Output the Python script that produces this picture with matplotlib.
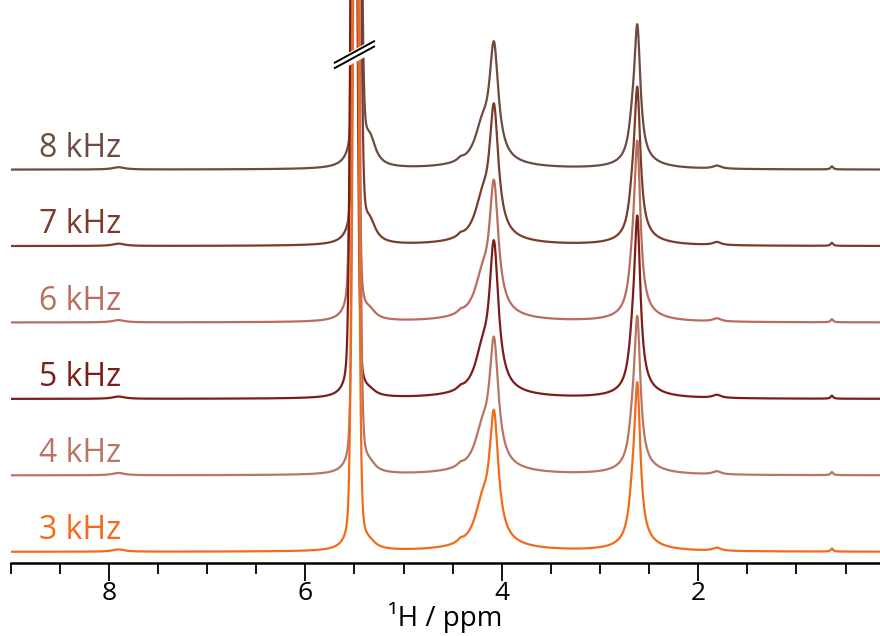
import numpy as np
import matplotlib.pyplot as plt
from matplotlib.ticker import MultipleLocator

plt.rcParams['font.family'] = ['Open Sans', 'DejaVu Sans']

# spectra, bottom to top
labels = ['3 kHz', '4 kHz', '5 kHz', '6 kHz', '7 kHz', '8 kHz']
colors = ['#f26b1d', '#b87563', '#7e1c18', '#b96e5d', '#7c3c2c', '#6c4b41']

# peak list: centre (ppm), fwhm (ppm), lorentzian fraction
peak_pos = [5.49, 5.34, 4.08, 4.20, 4.42, 4.10, 2.62, 2.67, 2.60, 7.90, 1.81, 0.64]
peak_fwhm = [0.06, 0.14, 0.11, 0.18, 0.07, 0.80, 0.075, 0.09, 0.45, 0.15, 0.10, 0.03]
peak_eta = [0.22, 1.0, 1.0, 1.0, 1.0, 1.0, 1.0, 1.0, 1.0, 1.0, 1.0, 1.0]

# shift of the big 5.5 ppm line for each rate
big_shift = [0.000, -0.010, 0.015, 0.008, -0.018, -0.022]

# peak heights (in units of the stacking offset), one row per spectrum
heights = [
    [14, 0.06, 1.62, 0.45, 0.035, 0.07, 1.95, 0.38, 0.09, 0.03, 0.04, 0.04],
    [14, 0.08, 1.59, 0.42, 0.035, 0.07, 1.83, 0.35, 0.09, 0.03, 0.04, 0.04],
    [14, 0.05, 1.85, 0.42, 0.035, 0.07, 2.13, 0.38, 0.09, 0.03, 0.04, 0.04],
    [14, 0.09, 1.64, 0.42, 0.035, 0.07, 2.11, 0.38, 0.09, 0.03, 0.04, 0.04],
    [14, 0.23, 1.64, 0.42, 0.035, 0.07, 1.83, 0.35, 0.09, 0.03, 0.04, 0.04],
    [14, 0.31, 1.46, 0.40, 0.035, 0.07, 1.66, 0.32, 0.09, 0.03, 0.04, 0.04],
]

offset = 1.0
ppm = np.linspace(9.1, 0.0, 6000)


def line(x, c, w, h, eta):
    lor = 1.0 / (1.0 + (2 * (x - c) / w) ** 2)
    gau = np.exp(-4 * np.log(2) * ((x - c) / w) ** 2)
    return h * (eta * lor + (1 - eta) * gau)


fig = plt.figure(figsize=(8.8, 6.36), dpi=100)
ax = fig.add_axes([0.012, 0.115, 0.988, 0.885])

for i in reversed(range(len(labels))):
    y = np.zeros_like(ppm)
    for k in range(len(peak_pos)):
        c = peak_pos[k] + (big_shift[i] if k == 0 else 0)
        y += line(ppm, c, peak_fwhm[k], heights[i][k], peak_eta[k])
    ax.plot(ppm, y + i * offset, color=colors[i], lw=1.6)
    ax.text(8.71, i * offset + 0.17, labels[i], color=colors[i],
            fontsize=23, ha='left', va='baseline')

# break mark on the clipped line
for dy in (0.0, -0.07):
    ax.plot([5.70, 5.30], [6.38 + dy, 6.66 + dy], color='white', lw=5,
            solid_capstyle='butt', zorder=5)
for dy in (0.0, -0.07):
    ax.plot([5.70, 5.30], [6.40 + dy, 6.68 + dy], color='black', lw=1.4,
            zorder=6)

ax.set_xlim(9.0, 0.15)
ax.set_ylim(-0.144, 7.22)
ax.set_yticks([])
for s in ('top', 'left', 'right'):
    ax.spines[s].set_visible(False)
ax.spines['bottom'].set_linewidth(1.8)
ax.xaxis.set_major_locator(MultipleLocator(2))
ax.xaxis.set_minor_locator(MultipleLocator(0.5))
ax.tick_params(axis='x', which='major', length=13, width=1.3, labelsize=19, pad=0)
ax.tick_params(axis='x', which='minor', length=8, width=1.3)
ax.set_xlabel('¹H / ppm', fontsize=20, labelpad=-3)

fig.savefig('out.png', dpi=100)
